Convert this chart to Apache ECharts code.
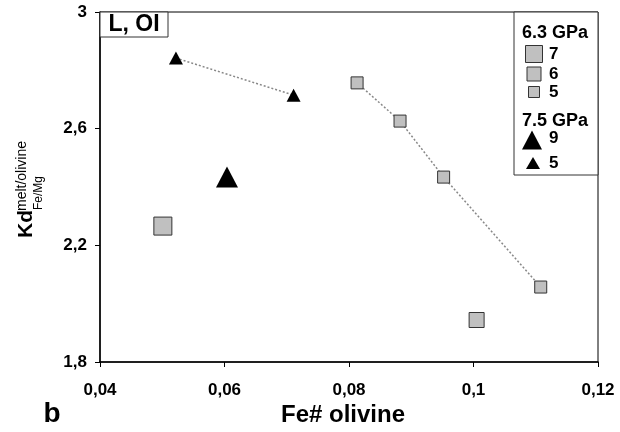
<!DOCTYPE html>
<html>
<head>
<meta charset="utf-8">
<script src="https://cdn.jsdelivr.net/npm/echarts@6/dist/echarts.min.js"></script>
<style>
html, body { margin: 0; padding: 0; background: #fff; }
#chart { width: 620px; height: 432px; }
</style>
</head>
<body>
<div id="chart"></div>
<script>
// 6.3 GPa (squares), value pairs [Fe# olivine, Kd]
const sq7 = [[0.0501, 2.266]]
const sq6 = [[0.1005, 1.944]]
const sq5 = [[0.0813, 2.757], [0.0882, 2.626], [0.0952, 2.434], [0.1108, 2.057]]
// 7.5 GPa (triangles)
const tri9 = [[0.0604, 2.434]]
const tri5 = [[0.0522, 2.842], [0.0711, 2.715]]

const xRange = [0.04, 0.12, 0.02]
const yRange = [1.8, 3, 0.4]

const FONT = 'Arial, "Liberation Sans", sans-serif'
const SQ_FILL = '#c0c0c0'
const SQ_EDGE = '#333'

const comma = v => String(+v.toFixed(4)).replace('.', ',')

const chart = echarts.init(document.getElementById('chart'))

function squareSeries(data, size) {
    return {
        type: 'scatter',
        data: data,
        symbol: 'rect',
        symbolSize: size,
        itemStyle: { color: SQ_FILL, borderColor: SQ_EDGE, borderWidth: 1, opacity: 1 },
        z: 5
    }
}

function triSeries(data, size) {
    return {
        type: 'scatter',
        data: data,
        symbol: 'triangle',
        symbolSize: size,
        itemStyle: { color: '#000', opacity: 1 },
        z: 5
    }
}

function dotLine(data) {
    return {
        type: 'line',
        data: data,
        symbol: 'none',
        silent: true,
        lineStyle: { color: '#888', width: 1.5, type: [2, 2] },
        z: 3
    }
}

// rotated y-axis title pieces
function vText(text, x, y, font) {
    return {
        type: 'text', x: x, y: y, rotation: Math.PI / 2,
        style: { text: text, font: font, fill: '#000', align: 'left', verticalAlign: 'middle' }
    }
}

function legText(text, x, y, size) {
    return {
        type: 'text', x: x, y: y,
        style: { text: text, font: 'bold ' + size + 'px ' + FONT, fill: '#000', align: 'left', verticalAlign: 'middle' },
        z: 20
    }
}

function legRect(cx, cy, s) {
    return {
        type: 'rect', shape: { x: cx - s / 2, y: cy - s / 2, width: s, height: s },
        style: { fill: SQ_FILL, stroke: SQ_EDGE, lineWidth: 1 }, z: 20
    }
}

function legTri(cx, cy, w, h) {
    return {
        type: 'polygon', shape: { points: [[cx, cy - h / 2], [cx + w / 2, cy + h / 2], [cx - w / 2, cy + h / 2]] },
        style: { fill: '#000' }, z: 20
    }
}

chart.setOption({
    animation: false,
    grid: { left: 100, right: 22, top: 12, bottom: 70, show: true, borderColor: '#000', borderWidth: 1 },
    xAxis: {
        type: 'value',
        min: xRange[0], max: xRange[1], interval: xRange[2],
        axisLine: { lineStyle: { color: '#000', width: 1.5 } },
        axisTick: { show: true, inside: false, length: 5, lineStyle: { color: '#000', width: 1 } },
        axisLabel: { formatter: comma, color: '#000', fontWeight: 'bold', fontSize: 17, fontFamily: FONT, margin: 20 },
        splitLine: { show: false }
    },
    yAxis: {
        type: 'value',
        min: yRange[0], max: yRange[1], interval: yRange[2],
        axisLine: { show: true, lineStyle: { color: '#000', width: 1.5 } },
        axisTick: { show: true, inside: false, length: 5, lineStyle: { color: '#000', width: 1 } },
        axisLabel: { formatter: comma, color: '#000', fontWeight: 'bold', fontSize: 17, fontFamily: FONT, margin: 13 },
        splitLine: { show: false }
    },
    series: [
        dotLine(sq5),
        dotLine(tri5),
        squareSeries(sq7, 18),
        squareSeries(sq6, 15),
        squareSeries(sq5, 12),
        triSeries(tri9, [22, 21]),
        triSeries(tri5, [14, 13])
    ],
    graphic: [
        // panel tag
        {
            type: 'rect', shape: { x: 100, y: 12, width: 68, height: 25 },
            style: { fill: '#fff', stroke: '#333', lineWidth: 1 }, z: 20
        },
        {
            type: 'text', x: 134, y: 25,
            style: { text: 'L, OI', font: 'bold 23px ' + FONT, fill: '#000', align: 'center', verticalAlign: 'middle' }, z: 21
        },
        // legend box
        {
            type: 'rect', shape: { x: 514, y: 12, width: 84, height: 163 },
            style: { fill: '#fff', stroke: '#333', lineWidth: 1 }, z: 19
        },
        legText('6.3 GPa', 522, 33, 18),
        legRect(534, 54, 17), legText('7', 549, 54, 17),
        legRect(534, 74, 14), legText('6', 549, 74, 17),
        legRect(534, 92, 11), legText('5', 549, 92, 17),
        legText('7.5 GPa', 522, 121, 18),
        legTri(532, 140, 20, 19), legText('9', 549, 138, 17),
        legTri(533, 163, 14, 12), legText('5', 549, 163, 17),
        // y-axis title
        vText('Kd', 26, 238, 'bold 21px ' + FONT),
        vText('melt/olivine', 22, 211, '14px ' + FONT),
        vText('Fe/Mg', 39, 210, '12px ' + FONT),
        // x-axis title and panel letter
        {
            type: 'text', x: 343, y: 415,
            style: { text: 'Fe# olivine', font: 'bold 24px ' + FONT, fill: '#000', align: 'center', verticalAlign: 'middle' }
        },
        {
            type: 'text', x: 52, y: 414,
            style: { text: 'b', font: 'bold 28px ' + FONT, fill: '#000', align: 'center', verticalAlign: 'middle' }
        }
    ]
})
</script>
</body>
</html>
